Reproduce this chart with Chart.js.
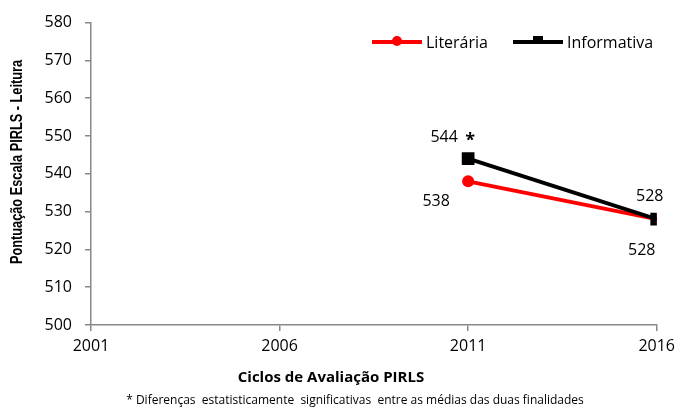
<!DOCTYPE html>
<html>
<head>
<meta charset="utf-8">
<script src="https://cdn.jsdelivr.net/npm/chart.js@4.4.1/dist/chart.umd.min.js"></script>
<style>
  html, body { margin: 0; padding: 0; background: #fff; }
  #wrap { width: 681px; height: 410px; position: relative; }
</style>
</head>
<body>
<div id="wrap"><canvas id="grafico"></canvas></div>
<script>
// dados
const ciclos = [2011, 2016];
const literaria = [538, 528];
const informativa = [544, 528];
const marcaInformativa = [' *', '']; // diferença significativa
const anosEixo = [2001, 2006, 2011, 2016];
const yMin = 500, yMax = 580, yPasso = 10;

const fonte = "'Open Sans', 'Liberation Sans', sans-serif";

// posição dos rótulos em relação ao ponto (estilo, não dados)
const desvioLit = [[-32, 20], [-15, 31]];
const desvioInf = [[-24, -21], [-7, -23]];

function pontos(vals) {
    return ciclos.map((c, i) => ({ x: c, y: vals[i] }));
}

const rotulos = { // desenha os valores junto dos pontos
    id: 'rotulos',
    afterDatasetsDraw(chart) {
        const ctx = chart.ctx;
        ctx.save();
        ctx.font = '16px ' + fonte;
        ctx.fillStyle = '#000';
        ctx.textAlign = 'center';
        ctx.textBaseline = 'middle';
        const xs = chart.scales.x, ys = chart.scales.y;
        literaria.forEach((v, i) => {
            ctx.fillText(String(v), xs.getPixelForValue(ciclos[i]) + desvioLit[i][0], ys.getPixelForValue(v) + desvioLit[i][1]);
        });
        informativa.forEach((v, i) => {
            const px = xs.getPixelForValue(ciclos[i]) + desvioInf[i][0];
            const py = ys.getPixelForValue(v) + desvioInf[i][1];
            ctx.fillText(String(v), px, py);
            if (marcaInformativa[i]) {
                ctx.font = 'bold 18px ' + fonte;
                ctx.fillText('*', px + 26, py + 3);
                ctx.font = '16px ' + fonte;
            }
        });
        ctx.restore();
    }
};

const textos = { // legenda, títulos e nota
    id: 'textos',
    afterDraw(chart) {
        const ctx = chart.ctx;
        ctx.save();
        // legenda
        const ly = 42;
        const itens = [
            { nome: 'Literária', cor: '#ff0000', x: 372, forma: 'circle' },
            { nome: 'Informativa', cor: '#000000', x: 513, forma: 'rect' }
        ];
        itens.forEach(it => {
            ctx.strokeStyle = it.cor;
            ctx.lineWidth = 4;
            ctx.beginPath();
            ctx.moveTo(it.x, ly);
            ctx.lineTo(it.x + 50, ly);
            ctx.stroke();
            ctx.fillStyle = it.cor;
            if (it.forma === 'circle') {
                ctx.beginPath();
                ctx.arc(it.x + 25, ly - 1, 5, 0, Math.PI * 2);
                ctx.fill();
            } else {
                ctx.fillRect(it.x + 20, ly - 6, 10, 8);
            }
            ctx.fillStyle = '#000';
            ctx.font = '16px ' + fonte;
            ctx.textAlign = 'left';
            ctx.textBaseline = 'middle';
            ctx.fillText(it.nome, it.x + 54, ly + 1);
        });
        // título eixo y (letra estreita)
        const tituloY = 'Pontuação Escala PIRLS - Leitura';
        ctx.save();
        ctx.font = "bold 16px 'Liberation Sans', sans-serif";
        const larg = ctx.measureText(tituloY).width;
        ctx.translate(18, 162);
        ctx.rotate(-Math.PI / 2);
        ctx.scale(204 / larg, 1);
        ctx.textAlign = 'center';
        ctx.textBaseline = 'middle';
        ctx.fillText(tituloY, 0, 0);
        ctx.restore();
        // título eixo x
        ctx.font = 'bold 15px ' + fonte;
        ctx.textAlign = 'center';
        ctx.textBaseline = 'middle';
        ctx.fillText('Ciclos de Avaliação PIRLS', 331, 378);
        // nota
        ctx.font = '12px ' + fonte;
        ctx.fillText('* Diferenças  estatisticamente  significativas  entre as médias das duas finalidades', 355, 401);
        ctx.restore();
    }
};

const ctx = document.getElementById('grafico');
new Chart(ctx, {
    type: 'line',
    data: {
        datasets: [{
            label: 'Literária',
            data: pontos(literaria),
            borderColor: '#ff0000',
            backgroundColor: '#ff0000',
            borderWidth: 4,
            pointStyle: 'circle',
            pointRadius: 6,
            pointBorderWidth: 0,
            order: 2
        }, {
            label: 'Informativa',
            data: pontos(informativa),
            borderColor: '#000000',
            backgroundColor: '#000000',
            borderWidth: 4,
            pointStyle: 'rect',
            pointRadius: 9,
            pointBorderWidth: 0,
            order: 1
        }]
    },
    options: {
        responsive: true,
        maintainAspectRatio: false,
        animation: false,
        layout: { padding: { top: 22, right: 23, left: 0, bottom: 0 } },
        plugins: {
            legend: { display: false },
            tooltip: { enabled: false }
        },
        scales: {
            x: {
                type: 'linear',
                min: anosEixo[0],
                max: anosEixo[anosEixo.length - 1],
                afterBuildTicks(scale) {
                    scale.ticks = anosEixo.map(v => ({ value: v }));
                },
                afterFit(scale) { scale.height = 85; },
                border: { color: '#888888', width: 1.5 },
                grid: { drawOnChartArea: false, tickLength: 6, color: '#888888', lineWidth: 1.5 },
                ticks: {
                    color: '#000',
                    font: { family: fonte, size: 16 },
                    padding: 6,
                    maxRotation: 0,
                    callback: v => String(v)
                }
            },
            y: {
                min: yMin,
                max: yMax,
                afterFit(scale) { scale.width = 91; },
                border: { color: '#888888', width: 1.5 },
                grid: { drawOnChartArea: false, tickLength: 6, color: '#888888', lineWidth: 1.5 },
                ticks: {
                    stepSize: yPasso,
                    color: '#000',
                    font: { family: fonte, size: 16 },
                    padding: 13
                }
            }
        }
    },
    plugins: [rotulos, textos]
});
</script>
</body>
</html>
